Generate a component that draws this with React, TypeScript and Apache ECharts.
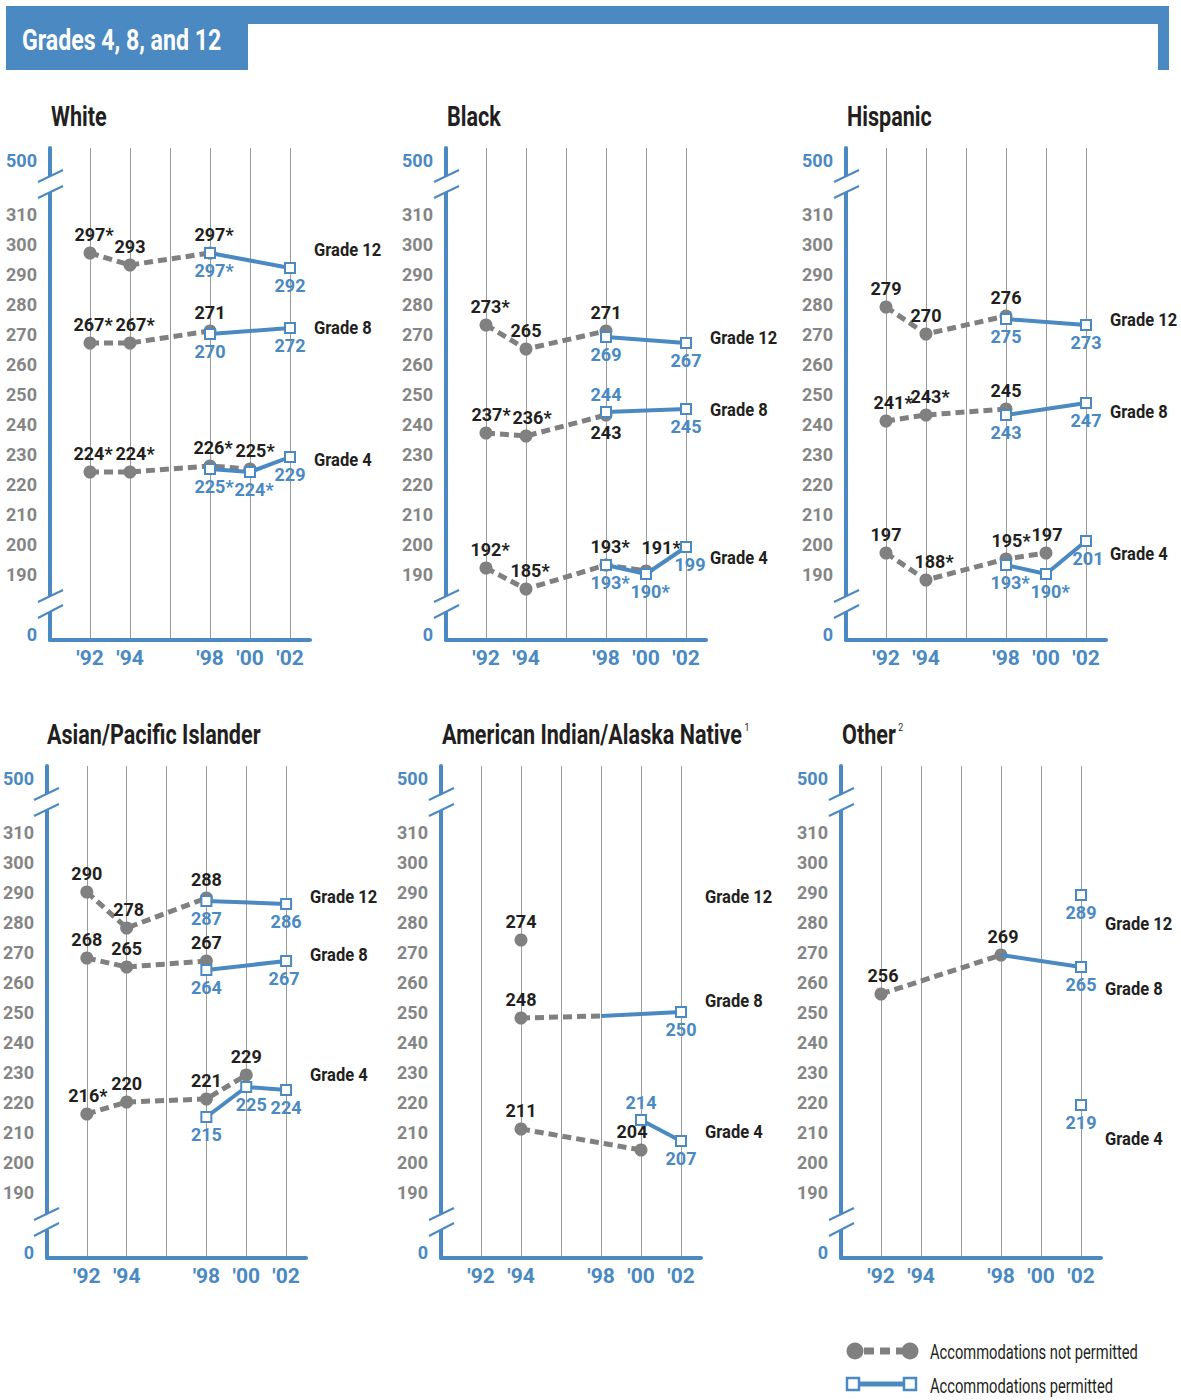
import React, { useEffect, useRef } from "react";
import * as echarts from "echarts";

// ---------- data ----------
const YEARS = [1992, 1994, 1996, 1998, 2000, 2002];
const X_TICK_LABELS = ["'92", "'94", "", "'98", "'00", "'02"];
const Y_TICKS = [190, 200, 210, 220, 230, 240, 250, 260, 270, 280, 290, 300, 310];
const Y_TOP_LABEL = "500";
const Y_BOTTOM_LABEL = "0";
const GRADES = ["Grade 12", "Grade 8", "Grade 4"];

// "" = no value, "*" = significant difference, "(v)" = joint point without marker
const WHITE_G12_NOT = ["297*", "293", "", "297*", "", ""];
const WHITE_G12_PERM = ["", "", "", "297*", "", "292"];
const WHITE_G8_NOT = ["267*", "267*", "", "271", "", ""];
const WHITE_G8_PERM = ["", "", "", "270", "", "272"];
const WHITE_G4_NOT = ["224*", "224*", "", "226*", "225*", ""];
const WHITE_G4_PERM = ["", "", "", "225*", "224*", "229"];

const BLACK_G12_NOT = ["273*", "265", "", "271", "", ""];
const BLACK_G12_PERM = ["", "", "", "269", "", "267"];
const BLACK_G8_NOT = ["237*", "236*", "", "243", "", ""];
const BLACK_G8_PERM = ["", "", "", "244", "", "245"];
const BLACK_G4_NOT = ["192*", "185*", "", "193*", "191*", ""];
const BLACK_G4_PERM = ["", "", "", "193*", "190*", "199"];

const HISP_G12_NOT = ["279", "270", "", "276", "", ""];
const HISP_G12_PERM = ["", "", "", "275", "", "273"];
const HISP_G8_NOT = ["241*", "243*", "", "245", "", ""];
const HISP_G8_PERM = ["", "", "", "243", "", "247"];
const HISP_G4_NOT = ["197", "188*", "", "195*", "197", ""];
const HISP_G4_PERM = ["", "", "", "193*", "190*", "201"];

const ASIAN_G12_NOT = ["290", "278", "", "288", "", ""];
const ASIAN_G12_PERM = ["", "", "", "287", "", "286"];
const ASIAN_G8_NOT = ["268", "265", "", "267", "", ""];
const ASIAN_G8_PERM = ["", "", "", "264", "", "267"];
const ASIAN_G4_NOT = ["216*", "220", "", "221", "229", ""];
const ASIAN_G4_PERM = ["", "", "", "215", "225", "224"];

const AMIND_G12_NOT = ["", "274", "", "", "", ""];
const AMIND_G8_NOT = ["", "248", "", "(248.7)", "", ""];
const AMIND_G8_PERM = ["", "", "", "(248.7)", "", "250"];
const AMIND_G4_NOT = ["", "211", "", "", "204", ""];
const AMIND_G4_PERM = ["", "", "", "", "214", "207"];

const OTHER_G12_PERM = ["", "", "", "", "", "289"];
const OTHER_G8_NOT = ["256", "", "", "269", "", ""];
const OTHER_G8_PERM = ["", "", "", "(269)", "", "265"];
const OTHER_G4_PERM = ["", "", "", "", "", "219"];

const LEGEND_LABELS = ["Accommodations not permitted", "Accommodations permitted"];
const HEADER = "Grades 4, 8, and 12";

// ---------- styles / layout ----------
const BLUE = "#4A89C1";
const GRAY = "#808080";
const YGRAY = "#858585";
const INK = "#231F20";
const FONT = "Roboto, 'Liberation Sans', sans-serif";

type S = { arr: string[]; kind: "not" | "perm" };
type Panel = {
  title: string;
  sup?: string;
  left: number;
  top: number;
  series: S[];
  gradePos: number[][];
  overrides?: Record<string, { pos?: string; dx?: number; dy?: number }>;
};

const PANELS: Panel[] = [
  {
    title: "White", left: 50, top: 148,
    series: [
      { arr: WHITE_G12_NOT, kind: "not" }, { arr: WHITE_G12_PERM, kind: "perm" },
      { arr: WHITE_G8_NOT, kind: "not" }, { arr: WHITE_G8_PERM, kind: "perm" },
      { arr: WHITE_G4_NOT, kind: "not" }, { arr: WHITE_G4_PERM, kind: "perm" },
    ],
    gradePos: [[314, 250], [314, 328], [314, 460]],
    overrides: { "4|3": { dx: 3 }, "4|4": { dx: 5 }, "2|0": { dx: 3 }, "2|1": { dx: 5 }, "4|0": { dx: 3 }, "4|1": { dx: 5 } },
  },
  {
    title: "Black", left: 446, top: 148,
    series: [
      { arr: BLACK_G12_NOT, kind: "not" }, { arr: BLACK_G12_PERM, kind: "perm" },
      { arr: BLACK_G8_NOT, kind: "not" }, { arr: BLACK_G8_PERM, kind: "perm" },
      { arr: BLACK_G4_NOT, kind: "not" }, { arr: BLACK_G4_PERM, kind: "perm" },
    ],
    gradePos: [[710, 338], [710, 410], [710, 558]],
    overrides: {
      "2|3": { pos: "bottom" }, "3|3": { pos: "top" },
      "4|4": { dx: 15, dy: -5 }, "5|5": { dx: 4 }, "2|0": { dx: 5 }, "2|1": { dx: 6 },
    },
  },
  {
    title: "Hispanic", left: 846, top: 148,
    series: [
      { arr: HISP_G12_NOT, kind: "not" }, { arr: HISP_G12_PERM, kind: "perm" },
      { arr: HISP_G8_NOT, kind: "not" }, { arr: HISP_G8_PERM, kind: "perm" },
      { arr: HISP_G4_NOT, kind: "not" }, { arr: HISP_G4_PERM, kind: "perm" },
    ],
    gradePos: [[1110, 320], [1110, 412], [1110, 554]],
    overrides: { "2|0": { dx: 7 }, "4|1": { dx: 8 }, "4|3": { dx: 5 }, "4|4": { dx: 1 }, "5|5": { dx: 2 } },
  },
  {
    title: "Asian/Pacific Islander", left: 46, top: 766,
    series: [
      { arr: ASIAN_G12_NOT, kind: "not" }, { arr: ASIAN_G12_PERM, kind: "perm" },
      { arr: ASIAN_G8_NOT, kind: "not" }, { arr: ASIAN_G8_PERM, kind: "perm" },
      { arr: ASIAN_G4_NOT, kind: "not" }, { arr: ASIAN_G4_PERM, kind: "perm" },
    ],
    gradePos: [[310, 897], [310, 955], [310, 1075]],
    overrides: { "0|1": { dx: 2 }, "5|4": { dx: 5 }, "4|0": { dx: 1 }, "3|5": { dx: -2 } },
  },
  {
    title: "American Indian/Alaska Native", sup: "1", left: 441, top: 766,
    series: [
      { arr: AMIND_G12_NOT, kind: "not" },
      { arr: AMIND_G8_NOT, kind: "not" }, { arr: AMIND_G8_PERM, kind: "perm" },
      { arr: AMIND_G4_NOT, kind: "not" }, { arr: AMIND_G4_PERM, kind: "perm" },
    ],
    gradePos: [[705, 897], [705, 1001], [705, 1132]],
    overrides: { "3|4": { dx: -9 }, "4|4": { pos: "top" } },
  },
  {
    title: "Other", sup: "2", left: 841, top: 766,
    series: [
      { arr: OTHER_G12_PERM, kind: "perm" },
      { arr: OTHER_G8_NOT, kind: "not" }, { arr: OTHER_G8_PERM, kind: "perm" },
      { arr: OTHER_G4_PERM, kind: "perm" },
    ],
    gradePos: [[1105, 924], [1105, 989], [1105, 1139]],
    overrides: { "1|0": { dx: 2 }, "1|3": { dx: 2 } },
  },
];

const GRID_W = 260;
const GRID_H = 492;

function txt(x: number, y: number, text: string, style: any, scaleX = 1) {
  return {
    type: "text", z: 101, x, y, scaleX, scaleY: 1,
    style: { x: 0, y: 0, text, fontFamily: FONT, verticalAlign: "middle", textVerticalAlign: "middle", ...style },
  };
}

function buildOption() {
  const grid: any[] = [];
  const xAxis: any[] = [];
  const yAxis: any[] = [];
  const series: any[] = [];
  const graphic: any[] = [];

  // header
  graphic.push(
    { type: "rect", shape: { x: 6, y: 6, width: 1163, height: 18 }, style: { fill: BLUE }, z: 100 },
    { type: "rect", shape: { x: 6, y: 6, width: 242, height: 64 }, style: { fill: BLUE }, z: 100 },
    { type: "rect", shape: { x: 1158, y: 6, width: 11, height: 64 }, style: { fill: BLUE }, z: 100 },
    txt(22, 40, HEADER, { fill: "#fff", fontSize: 30, fontWeight: "bold" }, 0.77)
  );

  PANELS.forEach((p, pi) => {
    grid.push({ left: p.left, top: p.top, width: GRID_W, height: GRID_H, containLabel: false });
    xAxis.push({
      type: "value", gridIndex: pi, min: 1990, max: 2003, interval: 2,
      axisLine: { show: true, lineStyle: { color: BLUE, width: 4 } },
      axisTick: { show: false },
      splitLine: { show: true, showMinLine: false, showMaxLine: false, lineStyle: { color: "#9B9B9B", width: 1 } },
      axisLabel: {
        margin: 7, color: BLUE, fontSize: 21, fontWeight: "bold", fontFamily: FONT, showMaxLabel: false,
        formatter: (v: number) => {
          const i = YEARS.indexOf(Math.round(v));
          return i >= 0 ? X_TICK_LABELS[i] : "";
        },
      },
    });
    yAxis.push({
      type: "value", gridIndex: pi, min: 168, max: 332, interval: 2,
      axisLine: { show: true, lineStyle: { color: BLUE, width: 4 } },
      axisTick: { show: false },
      splitLine: { show: false },
      axisLabel: {
        margin: 13, color: YGRAY, fontSize: 18, fontWeight: "bold", fontFamily: FONT,
        formatter: (v: number) => {
          const r = Math.round(v);
          if (r === 328) return "{b|" + Y_TOP_LABEL + "}";
          if (r === 170) return "{b|" + Y_BOTTOM_LABEL + "}";
          return Y_TICKS.indexOf(r) >= 0 ? String(r) : "";
        },
        rich: { b: { color: BLUE, fontSize: 18, fontWeight: "bold", fontFamily: FONT } },
      },
    });

    p.series.forEach((s, si) => {
      const data: any[] = [];
      s.arr.forEach((t, i) => {
        if (!t) return;
        const hidden = t.startsWith("(");
        const val = parseFloat(hidden ? t.slice(1, -1) : t);
        const ov = (p.overrides || {})[si + "|" + i] || {};
        const pos = ov.pos || (s.kind === "not" ? "top" : "bottom");
        const dx = ov.dx !== undefined ? ov.dx : t.endsWith("*") ? 4 : 0;
        const dy = ov.dy || 0;
        const item: any = {
          value: [YEARS[i], val],
          label: { show: !hidden, formatter: t, position: pos, offset: [dx, dy], distance: pos === "top" ? 3 : 2 },
        };
        if (hidden) item.symbol = "none";
        data.push(item);
      });
      const isNot = s.kind === "not";
      series.push({
        type: "line", xAxisIndex: pi, yAxisIndex: pi, data,
        showAllSymbol: true,
        symbol: isNot ? "circle" : "rect",
        symbolSize: isNot ? 13 : 10,
        z: isNot ? 2 : 3,
        lineStyle: isNot
          ? { color: GRAY, width: 5, type: [9, 5], cap: "butt" }
          : { color: BLUE, width: 4 },
        itemStyle: isNot ? { color: GRAY } : { color: "#fff", borderColor: BLUE, borderWidth: 2 },
        label: { color: isNot ? INK : BLUE, fontSize: 18, fontWeight: "bold", fontFamily: FONT },
        emphasis: { disabled: true },
        silent: true,
      });
    });

    // title
    graphic.push(
      txt(p.left + 1, p.top - 31, p.sup ? "{t|" + p.title + "}{s|" + p.sup + "}" : "{t|" + p.title + "}", {
        rich: {
          t: { fontSize: 27, fontWeight: "bold", fontFamily: FONT, fill: INK, color: INK },
          s: { fontSize: 11, fontFamily: FONT, fill: INK, color: INK, verticalAlign: "top", padding: [0, 0, 12, 3] },
        },
      }, 0.8)
    );
    // grade labels
    p.gradePos.forEach((gp, gi) => {
      graphic.push(txt(gp[0], gp[1], GRADES[gi], { fill: INK, fontSize: 18, fontWeight: "bold" }, 0.92));
    });
    // axis breaks
    const L = p.left, T = p.top;
    [[28, 44, 34, 22, 50, 38], [448, 464, 454, 442, 470, 457]].forEach((b) => {
      graphic.push(
        { type: "rect", z: 110, shape: { x: L - 4, y: T + b[0], width: 8, height: b[1] - b[0] }, style: { fill: "#fff" } },
        { type: "line", z: 111, shape: { x1: L - 12, y1: T + b[2], x2: L + 13, y2: T + b[3] }, style: { stroke: BLUE, lineWidth: 2 } },
        { type: "line", z: 111, shape: { x1: L - 12, y1: T + b[4], x2: L + 13, y2: T + b[5] }, style: { stroke: BLUE, lineWidth: 2 } }
      );
    });
  });

  // legend
  graphic.push(
    { type: "line", z: 100, shape: { x1: 864, y1: 1351, x2: 902, y2: 1351 }, style: { stroke: GRAY, lineWidth: 7, lineDash: [10, 6] } },
    { type: "circle", z: 101, shape: { cx: 855, cy: 1351, r: 8.5 }, style: { fill: GRAY } },
    { type: "circle", z: 101, shape: { cx: 910, cy: 1351, r: 8.5 }, style: { fill: GRAY } },
    { type: "line", z: 100, shape: { x1: 858, y1: 1384, x2: 905, y2: 1384 }, style: { stroke: BLUE, lineWidth: 5 } },
    { type: "rect", z: 101, shape: { x: 847, y: 1378, width: 12, height: 12 }, style: { fill: "#fff", stroke: BLUE, lineWidth: 2.5 } },
    { type: "rect", z: 101, shape: { x: 904, y: 1378, width: 12, height: 12 }, style: { fill: "#fff", stroke: BLUE, lineWidth: 2.5 } },
    txt(930, 1351, LEGEND_LABELS[0], { fill: INK, fontSize: 21 }, 0.7),
    txt(930, 1385, LEGEND_LABELS[1], { fill: INK, fontSize: 21 }, 0.7)
  );

  return {
    animation: false,
    backgroundColor: "#fff",
    textStyle: { fontFamily: FONT },
    grid, xAxis, yAxis, series, graphic,
  };
}

export default function App() {
  const ref = useRef<HTMLDivElement>(null);
  useEffect(() => {
    if (!ref.current) return;
    const chart = echarts.init(ref.current, null, { renderer: "svg" });
    chart.setOption(buildOption() as any);
    return () => chart.dispose();
  }, []);
  return <div ref={ref} style={{ position: "absolute", left: 0, top: 0, width: 1181, height: 1400 }} />;
}
